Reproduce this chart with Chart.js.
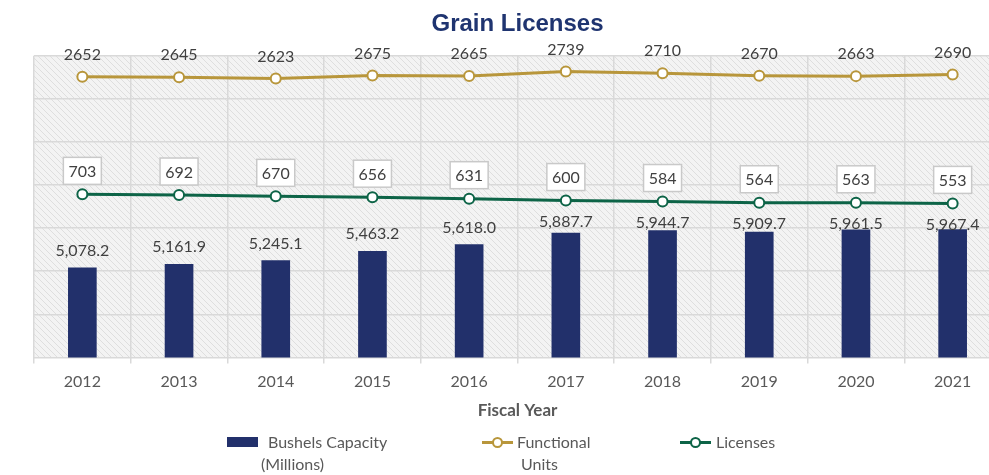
<!DOCTYPE html>
<html>
<head>
<meta charset="utf-8">
<script src="https://cdn.jsdelivr.net/npm/chart.js@4/dist/chart.umd.min.js"></script>
<style>
  html, body { margin: 0; padding: 0; background: #fff; overflow: hidden; }
  #wrap { position: relative; width: 1035px; height: 475px; }
  #legend { position: absolute; left: 0; top: 0; width: 1035px; height: 475px; pointer-events: none;
            font-family: Lato, "Open Sans", sans-serif; font-size: 16px; color: #595959; }
  #legend span { position: absolute; white-space: nowrap; line-height: 20px; }
  .swatch { position: absolute; }
</style>
</head>
<body>
<div id="wrap">
  <canvas id="grainChart" width="1035" height="475"></canvas>
  <div id="legend"></div>
</div>
<script>
// chart data
const years = ['2012', '2013', '2014', '2015', '2016', '2017', '2018', '2019', '2020', '2021'];
const bushelsCapacity = [5078.2, 5161.9, 5245.1, 5463.2, 5618.0, 5887.7, 5944.7, 5909.7, 5961.5, 5967.4];
const functionalUnits = [2652, 2645, 2623, 2675, 2665, 2739, 2710, 2670, 2663, 2690];
const licenses = [703, 692, 670, 656, 631, 600, 584, 564, 563, 553];

const NAVY = '#22306b';
const GOLD = '#b8963b';
const GREEN = '#0d6447';
const FONT = 'Lato, "Open Sans", sans-serif';

// light diagonal hatch behind the plot
function makeHatch() {
  const c = document.createElement('canvas');
  c.width = 6; c.height = 6;
  const g = c.getContext('2d');
  g.fillStyle = '#f3f3f3';
  g.fillRect(0, 0, 6, 6);
  g.strokeStyle = '#dedede';
  g.lineWidth = 1;
  g.beginPath();
  g.moveTo(-1, -1); g.lineTo(7, 7);
  g.moveTo(-1, 5); g.lineTo(1, 7);
  g.moveTo(5, -1); g.lineTo(7, 1);
  g.stroke();
  return g.createPattern(c, 'repeat');
}

const hatchBackground = {
  id: 'hatchBackground',
  beforeDraw(chart) {
    const { ctx, chartArea: a } = chart;
    ctx.save();
    ctx.fillStyle = makeHatch();
    ctx.fillRect(a.left, a.top, a.right - a.left, a.bottom - a.top);
    ctx.restore();
  }
};

// value labels: plain above gold line, boxed above green line, above bars
const valueLabels = {
  id: 'valueLabels',
  afterDatasetsDraw(chart) {
    const ctx = chart.ctx;
    const barMeta = chart.getDatasetMeta(0);
    const fuMeta = chart.getDatasetMeta(1);
    const licMeta = chart.getDatasetMeta(2);
    ctx.save();
    ctx.font = '16px ' + FONT;
    ctx.textAlign = 'center';
    ctx.textBaseline = 'middle';
    ctx.fillStyle = '#404040';

    fuMeta.data.forEach((pt, i) => {
      ctx.fillText(String(functionalUnits[i]), pt.x, pt.y - 22);
    });

    licMeta.data.forEach((pt, i) => {
      const cy = pt.y - 23.5;
      ctx.fillStyle = '#ffffff';
      ctx.fillRect(pt.x - 19, cy - 13.5, 38, 27);
      ctx.strokeStyle = '#c9c9c9';
      ctx.lineWidth = 1.5;
      ctx.strokeRect(pt.x - 19, cy - 13.5, 38, 27);
      ctx.fillStyle = '#404040';
      ctx.fillText(String(licenses[i]), pt.x, cy + 1);
    });

    barMeta.data.forEach((bar, i) => {
      const licY = licMeta.data[i].y;
      const y = Math.max(bar.y - 17, licY + 21);
      const txt = bushelsCapacity[i].toLocaleString('en-US', { minimumFractionDigits: 1, maximumFractionDigits: 1 });
      ctx.fillText(txt, bar.x, y);
    });
    ctx.restore();
  }
};

const ctx = document.getElementById('grainChart').getContext('2d');
const grainChart = new Chart(ctx, {
  type: 'bar',
  data: {
    labels: years,
    datasets: [
      {
        type: 'bar',
        label: 'Bushels Capacity (Millions)',
        data: bushelsCapacity,
        backgroundColor: NAVY,
        barThickness: 28,
        yAxisID: 'y',
        order: 3
      },
      {
        type: 'line',
        label: 'Functional Units',
        data: functionalUnits,
        borderColor: GOLD,
        borderWidth: 3,
        pointRadius: 5,
        pointBorderWidth: 2,
        pointBackgroundColor: '#ffffff',
        pointBorderColor: GOLD,
        yAxisID: 'y2',
        order: 1
      },
      {
        type: 'line',
        label: 'Licenses',
        data: licenses,
        borderColor: GREEN,
        borderWidth: 3,
        pointRadius: 5,
        pointBorderWidth: 2,
        pointBackgroundColor: '#ffffff',
        pointBorderColor: GREEN,
        yAxisID: 'y2',
        order: 2
      }
    ]
  },
  options: {
    responsive: false,
    animation: false,
    layout: { padding: { left: 34, right: 34, top: 0, bottom: 54 } },
    plugins: {
      legend: { display: false },
      tooltip: { enabled: false },
      title: {
        display: true,
        text: 'Grain Licenses',
        color: '#1f3470',
        font: { family: '"Liberation Sans", Arial, sans-serif', size: 24, weight: 'bold' },
        padding: { top: 10, bottom: 17 }
      }
    },
    scales: {
      x: {
        grid: { color: '#d9d9d9', lineWidth: 1.5, tickLength: 6, offset: true },
        border: { display: false },
        ticks: { color: '#595959', font: { family: FONT, size: 16 }, padding: 9 },
        title: {
          display: true,
          text: 'Fiscal Year',
          color: '#595959',
          font: { family: FONT, size: 17, weight: 'bold' },
          padding: { top: 0, bottom: 0 }
        }
      },
      y: {
        position: 'left',
        min: 3000,
        max: 10000,
        ticks: { display: false, stepSize: 1000 },
        grid: { color: '#d9d9d9', lineWidth: 1.5, drawTicks: false },
        border: { display: false }
      },
      y2: {
        position: 'right',
        min: -2000,
        max: 3000,
        display: false
      }
    }
  },
  plugins: [hatchBackground, valueLabels]
});

// legend drawn as html so the long labels can wrap like the original
const legendItems = [
  { kind: 'box', color: NAVY, x: 227, text: ['Bushels Capacity', '(Millions)'], tx: [268, 261] },
  { kind: 'line', color: GOLD, x: 482, text: ['Functional', 'Units'], tx: [517, 521] },
  { kind: 'line', color: GREEN, x: 680, text: ['Licenses'], tx: [716] }
];
const legend = document.getElementById('legend');
legendItems.forEach(item => {
  if (item.kind === 'box') {
    const b = document.createElement('div');
    b.className = 'swatch';
    b.style.cssText = `left:${item.x}px;top:437px;width:31px;height:10px;background:${item.color}`;
    legend.appendChild(b);
  } else {
    const l = document.createElement('div');
    l.className = 'swatch';
    l.style.cssText = `left:${item.x}px;top:441px;width:31px;height:3px;background:${item.color}`;
    legend.appendChild(l);
    const c = document.createElement('div');
    c.className = 'swatch';
    c.style.cssText = `left:${item.x + 10}px;top:437px;width:7px;height:7px;border:2px solid ${item.color};border-radius:50%;background:#fff`;
    legend.appendChild(c);
  }
  item.text.forEach((t, k) => {
    const s = document.createElement('span');
    s.textContent = t;
    s.style.left = item.tx[k] + 'px';
    s.style.top = (432 + k * 22) + 'px';
    legend.appendChild(s);
  });
});
</script>
</body>
</html>
